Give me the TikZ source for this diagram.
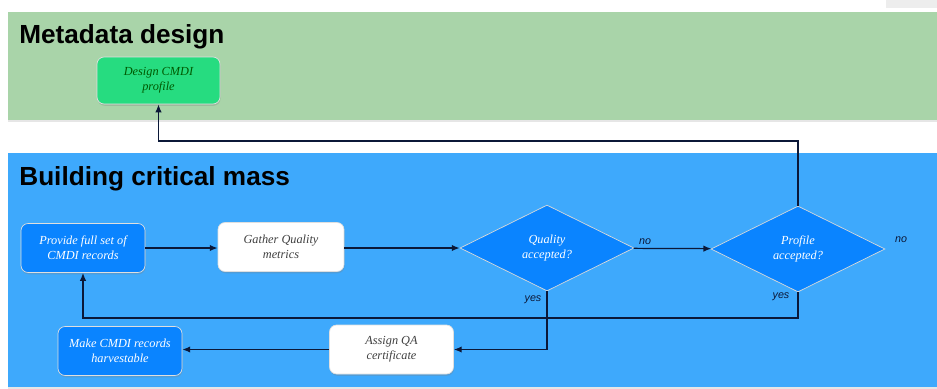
\documentclass[tikz,border=0pt]{standalone}
\usepackage{fontspec}
\setmainfont{Liberation Serif}
\setsansfont{Liberation Sans}
\usetikzlibrary{shapes.geometric,shadows,arrows.meta}

\definecolor{bandgreen}{HTML}{A9D4A9}
\definecolor{bandblue}{HTML}{3EA9FC}
\definecolor{boxgreen}{HTML}{26DC80}
\definecolor{boxblue}{HTML}{0A84FF}
\definecolor{linenavy}{HTML}{0B1838}

\begin{document}
\begin{tikzpicture}[x=0.02cm,y=-0.02cm,
		title/.style={anchor=base west,inner sep=0pt,font=\sffamily\bfseries\fontsize{14.9}{17}\selectfont},
		task/.style={rectangle,rounded corners=4pt,draw=white!75!gray,line width=0.4pt,
			minimum width=2.48cm,minimum height=0.98cm,inner sep=1pt,align=center,
			font=\itshape\fontsize{7}{8.5}\selectfont,
			drop shadow={opacity=0.3,shadow xshift=0.3pt,shadow yshift=-1pt}},
		bluetask/.style={task,fill=boxblue,text=white},
		whitetask/.style={task,fill=white,text=black!75},
		greentask/.style={task,fill=boxgreen,text=green!35!black},
		check/.style={diamond,aspect=2,minimum width=3.48cm,minimum height=1.72cm,inner sep=0pt,
			fill=boxblue,draw=white!70!gray,line width=0.4pt,text=white,align=center,
			font=\itshape\fontsize{7}{8.5}\selectfont},
		answer/.style={inner sep=0pt,text=linenavy,font=\sffamily\itshape\fontsize{6.1}{7}\selectfont},
		flow/.style={draw=linenavy,line width=0.7pt,-{Latex[length=4.5pt,width=3.6pt]}}]

	\useasboundingbox (0,0) rectangle (937,389);
	\fill[black!7] (886,0) rectangle (937,8);

	\fill[bandgreen,drop shadow={opacity=0.2,shadow xshift=0pt,shadow yshift=-1pt}] (8,12) rectangle (937,120);
	\fill[bandblue,drop shadow={opacity=0.2,shadow xshift=0pt,shadow yshift=-1pt}] (8,153) rectangle (937,387);

	\node[title] (mdtitle) at (19,43) {Metadata design};
	\node[title] (bcmtitle) at (19,185) {Building critical mass};

	\node[greentask,minimum width=2.46cm,minimum height=0.94cm] (dsg) at (158.5,80.5) {Design CMDI\\profile};

	\node[bluetask] (prov) at (83,248) {Provide full set of\\CMDI records};
	\node[whitetask,minimum width=2.52cm] (gath) at (281,247) {Gather Quality\\metrics};
	\node[check] (qual) at (547,248) {Quality\\accepted?};
	\node[check] (prof) at (798,249) {Profile\\accepted?};
	\node[whitetask] (asg) at (391.5,349.5) {Assign QA\\certificate};
	\node[bluetask] (make) at (120,351) {Make CMDI records\\harvestable};

	\node[answer] (qno) at (645,242) {no};
	\node[answer] (pno) at (901,240) {no};
	\node[answer] (qyes) at (533,300) {yes};
	\node[answer] (pyes) at (781,297) {yes};

	\coordinate (up) at (0,141);
	\coordinate (back) at (0,318);

	\draw[flow] (prov) -- (gath.west |- prov);
	\draw[flow] (gath.east |- prov) -- (qual);
	\draw[flow] (qual) -- (prof);
	\draw[flow] (prof.north) -- (prof.north |- up) -| (dsg.south);
	\draw[flow] (prof.south) -- (prof.south |- back) -| (prov.south);
	\draw[flow] (qual.south) |- (asg.east);
	\draw[flow] (asg) -- (make.east |- asg);

\end{tikzpicture}
\end{document}
